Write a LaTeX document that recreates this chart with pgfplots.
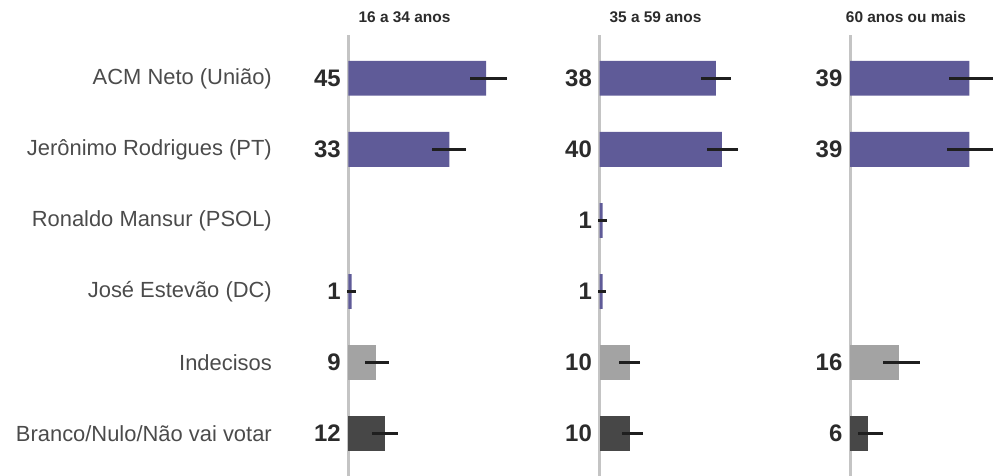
\documentclass[border=0pt]{standalone}
\usepackage{fontspec}
\setmainfont{Liberation Sans}
\usepackage{pgfplots}
\pgfplotsset{compat=1.18}

\definecolor{purp}{HTML}{5F5B98}
\definecolor{lgray}{HTML}{A3A3A3}
\definecolor{dgray}{HTML}{474747}
\definecolor{axgray}{HTML}{C4C4C4}
\definecolor{txt}{HTML}{2B2B2B}

\pgfplotsset{
  every axis title shift=0pt,
  panel/.style={
    x=3.06bp, y=71.04bp, y dir=reverse,
    xmin=0, xmax=46.7, ymin=-0.61, ymax=5.6,
    anchor=north west, clip=false,
    axis x line=none, axis y line*=left,
    y axis line style={draw=axgray, line width=3bp},
    ytick=\empty,
    title style={at={(0,1)}, anchor=center, xshift=56bp, yshift=18bp,
      font=\fontsize{15.5}{17}\selectfont\bfseries, text=txt},
  },
  bars/.style={xbar, draw=none, bar width=0.49,
    error bars/x dir=both, error bars/x explicit, error bars/error mark=none,
    error bars/error bar style={line width=2.5bp, color=black!88}},
  nums/.style={draw=none, mark=none, nodes near coords, point meta=explicit symbolic,
    nodes near coords style={anchor=east, inner sep=0pt, xshift=-7.5bp,
      font=\fontsize{24}{26}\selectfont\bfseries, text=txt}},
}

\begin{document}
\begin{tikzpicture}
\useasboundingbox (-348.5bp,35bp) rectangle (644.5bp,-441bp);

% 16 a 34 anos
\begin{axis}[panel, at={(0bp,0bp)}, title={16 a 34 anos},
  ytick={0,1,2,3,4,5},
  yticklabels={ACM Neto (União), Jerônimo Rodrigues (PT), Ronaldo Mansur (PSOL),
    José Estevão (DC), Indecisos, Branco/Nulo/Não vai votar},
  major tick length=0pt,
  yticklabel style={anchor=east, inner sep=0pt, xshift=-76.5bp,
    font=\fontsize{22}{24}\selectfont, text=txt!85}]
  \addplot[bars, fill=purp] coordinates {
    (45,0) += (6.9,0) -= (5.2,0)
    (33,1) += (5.5,0) -= (5.8,0)
    (1,3)  += (1.4,0) -= (1.5,0)
  };
  \addplot[bars, fill=lgray] coordinates {(9,4) += (4.1,0) -= (3.5,0)};
  \addplot[bars, fill=dgray] coordinates {(12,5) += (4.1,0) -= (4.4,0)};
  \addplot[nums] coordinates {(0,0) [45] (0,1) [33] (0,3) [1] (0,4) [9] (0,5) [12]};
\end{axis}

% 35 a 59 anos
\begin{axis}[panel, at={(251bp,0bp)}, title={35 a 59 anos}]
  \addplot[bars, fill=purp] coordinates {
    (38,0) += (4.9,0) -= (4.8,0)
    (40,1) += (5.4,0) -= (4.9,0)
    (1,2)  += (1.5,0) -= (1.4,0)
    (1,3)  += (1.0,0) -= (1.4,0)
  };
  \addplot[bars, fill=lgray] coordinates {(10,4) += (3.3,0) -= (3.7,0)};
  \addplot[bars, fill=dgray] coordinates {(10,5) += (4.2,0) -= (2.8,0)};
  \addplot[nums] coordinates {(0,0) [38] (0,1) [40] (0,2) [1] (0,3) [1] (0,4) [10] (0,5) [10]};
\end{axis}

% 60 anos ou mais
\begin{axis}[panel, at={(501.5bp,0bp)}, title={60 anos ou mais}]
  \addplot[bars, fill=purp] coordinates {
    (39,0) += (8,0) -= (6.6,0)
    (39,1) += (8,0) -= (7.2,0)
  };
  \addplot[bars, fill=lgray] coordinates {(16,4) += (6.8,0) -= (5.2,0)};
  \addplot[bars, fill=dgray] coordinates {(6,5) += (4.9,0) -= (3.4,0)};
  \addplot[nums] coordinates {(0,0) [39] (0,1) [39] (0,4) [16] (0,5) [6]};
\end{axis}
\end{tikzpicture}
\end{document}
